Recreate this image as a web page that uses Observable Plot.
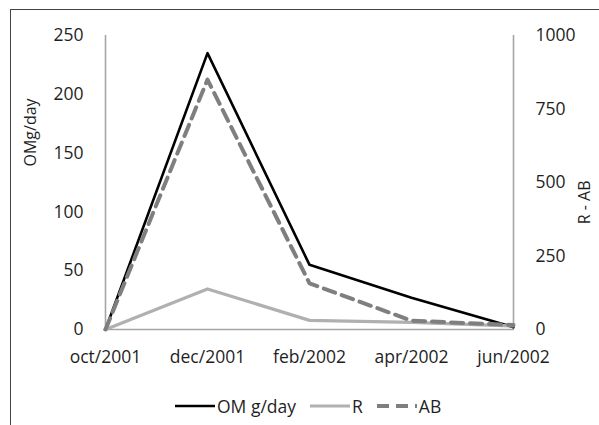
<!DOCTYPE html>
<html><head><meta charset="utf-8">
<script src="https://cdn.jsdelivr.net/npm/d3@7"></script>
<script src="https://cdn.jsdelivr.net/npm/@observablehq/plot@0.6"></script>
<style>
body{margin:0;background:#fff;font-family:"Open Sans",sans-serif;}
#wrap{position:relative;width:599px;height:425px;overflow:hidden;background:#fff;}
#frame{position:absolute;left:10px;top:9px;right:-5px;bottom:-5px;border-top:1px solid #444;border-left:1px solid #444;}
#chart{position:absolute;left:0;top:0;}
#legend{position:absolute;left:175px;top:394px;display:flex;align-items:center;font-size:17.5px;color:#1f1f1f;white-space:nowrap;}
#legend .item{display:flex;align-items:center;margin-right:14px;}
#legend svg{display:block;margin-right:2px;}
</style></head><body>
<div id="wrap"><div id="frame"></div><div id="chart"></div><div id="legend"></div></div>
<script>
const months = ["oct/2001", "dec/2001", "feb/2002", "apr/2002", "jun/2002"];
const omValues = [0, 235, 55, 27, 2];
const rValues = [0, 138, 31, 24, 12];
const abValues = [0, 850, 157, 30, 15];
const leftTicks = [0, 50, 100, 150, 200, 250];
const rightTicks = [0, 250, 500, 750, 1000];
const seriesNames = ["OM g/day", "R", "AB"];
const leftLabel = "OMg/day";
const rightLabel = "R - AB";

const ratio = 1000 / 250; // secondary axis max / primary axis max

const omData = months.map((m, i) => ({month: m, v: omValues[i]}));
const rData = months.map((m, i) => ({month: m, v: rValues[i] / ratio}));
const abData = months.map((m, i) => ({month: m, v: abValues[i] / ratio}));

const axisColor = "#a6a6a6";
const styles = [
  {stroke: "#000000", strokeWidth: 2.6},
  {stroke: "#b0b0b0", strokeWidth: 3.2},
  {stroke: "#7f7f7f", strokeWidth: 4, strokeDasharray: "12,7"}
];

const chart = Plot.plot({
  width: 599,
  height: 380,
  marginLeft: 103,
  marginRight: 85,
  marginTop: 35,
  marginBottom: 51,
  style: {fontFamily: "Open Sans, sans-serif", fontSize: "17.5px", color: "#1f1f1f", background: "transparent"},
  x: {type: "point", domain: months, padding: 0},
  y: {domain: [0, 250], nice: false},
  marks: [
    Plot.ruleY([0], {stroke: axisColor, strokeWidth: 1.6}),
    Plot.ruleX([months[0], months[months.length - 1]], {stroke: axisColor, strokeWidth: 1.6}),
    Plot.axisY(leftTicks, {anchor: "left", tickSize: 0, tickPadding: 20, label: null}),
    Plot.axisY(rightTicks.map(t => t / ratio), {anchor: "right", tickSize: 0, tickPadding: 21, tickFormat: d => String(d * ratio), textAnchor: "start", label: null}),
    Plot.axisX({tickSize: 0, tickPadding: 21, label: null}),
    Plot.line(omData, {x: "month", y: "v", ...styles[0]}),
    Plot.line(rData, {x: "month", y: "v", ...styles[1]}),
    Plot.line(abData, {x: "month", y: "v", ...styles[2]}),
    Plot.text([leftLabel], {text: d => d, frameAnchor: "left", dx: -73, dy: -16, rotate: -90, fontSize: 16}),
    Plot.text([rightLabel], {text: d => d, frameAnchor: "right", dx: 70, dy: -2, rotate: -90, fontSize: 16})
  ]
});
document.getElementById("chart").appendChild(chart);

const legend = document.getElementById("legend");
seriesNames.forEach((name, i) => {
  const item = document.createElement("div");
  item.className = "item";
  const s = styles[i];
  item.innerHTML = `<svg width="40" height="10"><line x1="0" x2="40" y1="5" y2="5" stroke="${s.stroke}" stroke-width="${s.strokeWidth}" ${s.strokeDasharray ? `stroke-dasharray="${s.strokeDasharray}"` : ""}/></svg><span>${name}</span>`;
  legend.appendChild(item);
});
</script>
</body></html>
